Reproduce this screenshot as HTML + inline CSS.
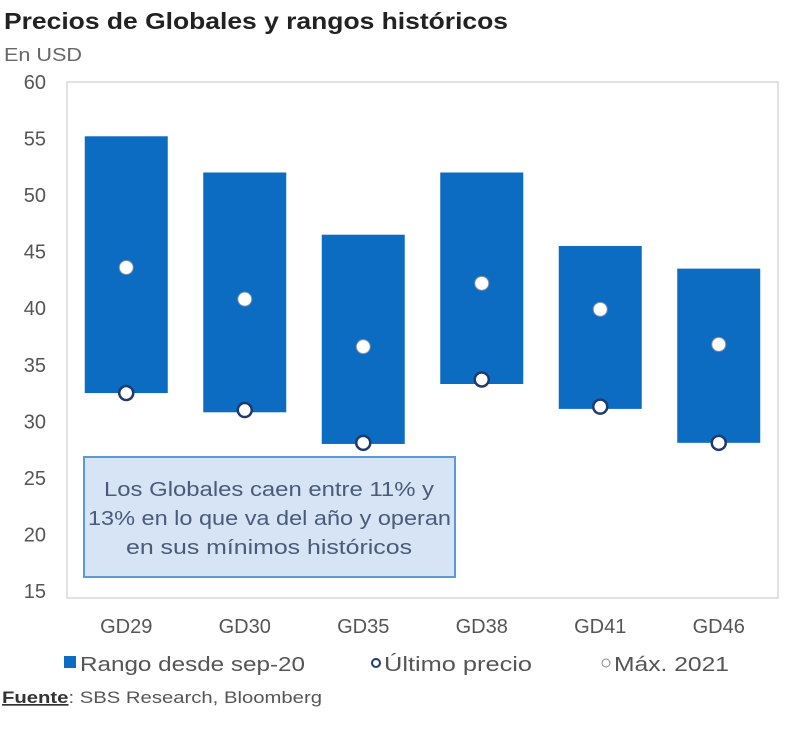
<!DOCTYPE html>
<html><head><meta charset="utf-8"><style>
body{margin:0;background:#fff;font-family:"Liberation Sans",sans-serif;}
</style></head><body>
<svg id="chart" width="800" height="726" xmlns="http://www.w3.org/2000/svg" font-family="Liberation Sans, sans-serif">
<text x="4" y="29" font-size="23" font-weight="bold" fill="#222" textLength="504" lengthAdjust="spacingAndGlyphs">Precios de Globales y rangos históricos</text>
<text x="4" y="61" font-size="18" fill="#666" textLength="78" lengthAdjust="spacingAndGlyphs">En USD</text>
<rect x="67" y="82" width="711" height="516" fill="none" stroke="#d9d9d9" stroke-width="1.5"/>
<g id="yaxis"></g><g id="bars"></g><g id="xaxis"></g>
<rect x="84" y="457" width="371" height="120" fill="#d6e4f5" stroke="#5b9bd5" stroke-width="2"/>
<g font-size="20" fill="#4a5a78">
<text x="104" y="496" textLength="330" lengthAdjust="spacingAndGlyphs">Los Globales caen entre 11% y</text>
<text x="88" y="525" textLength="363" lengthAdjust="spacingAndGlyphs">13% en lo que va del año y operan</text>
<text x="126" y="554" textLength="286" lengthAdjust="spacingAndGlyphs">en sus mínimos históricos</text>
</g>
<g font-size="20" fill="#555">
<rect x="64" y="656" width="12" height="12" fill="#0b6cc2"/>
<text x="80" y="671" textLength="225" lengthAdjust="spacingAndGlyphs">Rango desde sep-20</text>
<circle cx="376" cy="663" r="4" fill="#fff" stroke="#1f3a6e" stroke-width="2"/>
<text x="384" y="671" textLength="148" lengthAdjust="spacingAndGlyphs">Último precio</text>
<circle cx="606" cy="663" r="4" fill="#fff" stroke="#888" stroke-width="1"/>
<text x="614" y="671" textLength="115" lengthAdjust="spacingAndGlyphs">Máx. 2021</text>
</g>
<text x="2" y="703" font-size="17" fill="#555" textLength="320" lengthAdjust="spacingAndGlyphs"><tspan font-weight="bold" text-decoration="underline" fill="#333">Fuente</tspan>: SBS Research, Bloomberg</text>
</svg>
<script>
const categories=["GD29","GD30","GD35","GD38","GD41","GD46"];
const rangeLow=[32.5,30.8,28.0,33.3,31.1,28.1];
const rangeHigh=[55.2,52.0,46.5,52.0,45.5,43.5];
const lastPrice=[32.5,31.0,28.1,33.7,31.3,28.1];
const max2021=[43.6,40.8,36.6,42.2,39.9,36.8];
const yTicks=[15,20,25,30,35,40,45,50,55,60];
const NS="http://www.w3.org/2000/svg";
const y=v=>82+(60-v)*(591-82)/45;
const band=(778-67)/6;
const xc=i=>67+band*(i+0.5);
const bw=83;
function mk(t,a,p){const e=document.createElementNS(NS,t);for(const k in a)e.setAttribute(k,a[k]);p.appendChild(e);return e;}
const ya=document.getElementById('yaxis');
yTicks.forEach(v=>{const t=mk('text',{x:46,y:y(v)+7,'font-size':20,fill:'#555','text-anchor':'end'},ya);t.textContent=v;

});
const bars=document.getElementById('bars'),xa=document.getElementById('xaxis');
categories.forEach((c,i)=>{
 const r=mk('rect',{x:xc(i)-bw/2,y:y(rangeHigh[i]),width:bw,height:y(rangeLow[i])-y(rangeHigh[i]),fill:'#0b6cc2'},bars);
 
 
 const a=mk('circle',{cx:xc(i),cy:y(lastPrice[i]),r:7,fill:'#fff',stroke:'#1f3a6e','stroke-width':2.5},bars);
 
 
 const b=mk('circle',{cx:xc(i),cy:y(max2021[i]),r:7,fill:'#fff',stroke:'#7f8fa6','stroke-width':1},bars);
 
 
 const t=mk('text',{x:xc(i),y:633,'font-size':20,fill:'#555','text-anchor':'middle'},xa);t.textContent=c;
 
 
});
</script>
</body></html>
